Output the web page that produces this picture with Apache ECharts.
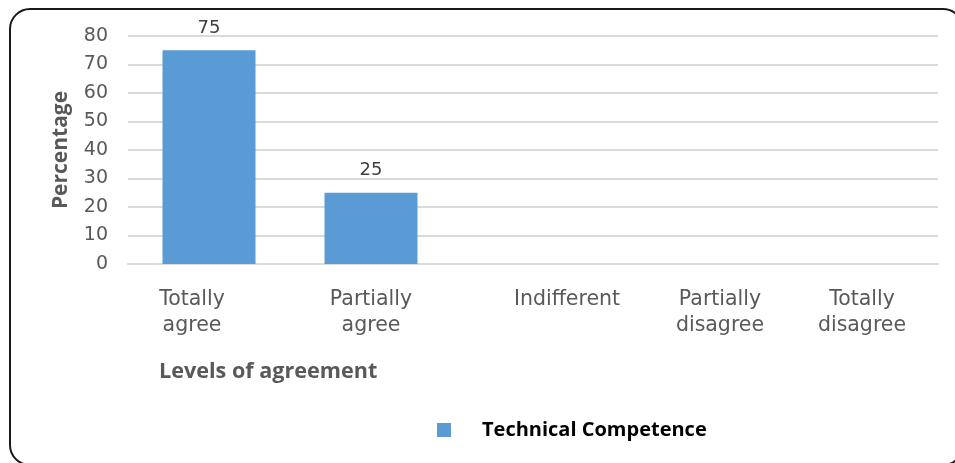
<html>
<head>
<meta charset="utf-8">
<script src="https://cdn.jsdelivr.net/npm/echarts@6/dist/echarts.min.js"></script>
<style>
    html, body { margin: 0; padding: 0; background: #fff; }
    #main { width: 955px; height: 463px; }
</style>
</head>
<body>
<div id="main"></div>
<script>
    // levels of agreement and the share of answers for each
    var categories = ['Totally\nagree', 'Partially\nagree', 'Indifferent', 'Partially\ndisagree', 'Totally\ndisagree'];
    var values = [75, 25, null, null, null];
    var seriesName = 'Technical Competence';
    var yTicks = [0, 80, 10]; // min, max, step

    // the source picture does not centre its category labels exactly
    var labelShift = [-17, 0, 34, 25, 5];

    var labelFont = "'DejaVu Sans', Verdana, sans-serif";
    var boldFont = "'Open Sans', sans-serif";

    var chart = echarts.init(document.getElementById('main'));

    var xData = categories.map(function (c, i) {
        var s = labelShift[i];
        return {
            value: c,
            textStyle: { padding: s < 0 ? [0, -2 * s, 0, 0] : [0, 0, 0, 2 * s] }
        };
    });

    chart.setOption({
        animation: false,
        graphic: [{
            type: 'rect',
            shape: { x: 10, y: 9, width: 953, height: 456, r: 20 },
            style: { fill: 'none', stroke: '#1a1a1a', lineWidth: 2 },
            silent: true
        }],
        title: {
            text: 'Levels of agreement',
            left: 154,
            top: 356,
            textStyle: { fontFamily: boldFont, fontWeight: 'bold', fontSize: 21.6, color: '#595959' }
        },
        legend: {
            data: [seriesName],
            left: 432,
            top: 415,
            icon: 'rect',
            itemWidth: 14,
            itemHeight: 14,
            textStyle: { fontFamily: boldFont, fontWeight: 'bold', fontSize: 20, color: '#000', padding: [0, 0, 0, 26] }
        },
        grid: { left: 128, right: 17, top: 36, bottom: 199 },
        xAxis: {
            type: 'category',
            data: xData,
            axisTick: { show: false },
            axisLine: { lineStyle: { color: '#d9d9d9', width: 2 } },
            axisLabel: {
                margin: 23,
                fontFamily: labelFont,
                fontSize: 20.5,
                lineHeight: 26,
                color: '#595959'
            }
        },
        yAxis: {
            type: 'value',
            min: yTicks[0],
            max: yTicks[1],
            interval: yTicks[2],
            name: 'Percentage',
            nameLocation: 'middle',
            nameGap: 56,
            nameTextStyle: { fontFamily: boldFont, fontWeight: 'bold', fontSize: 21, color: '#595959' },
            axisLine: { show: false },
            axisTick: { show: false },
            axisLabel: { margin: 20, fontFamily: labelFont, fontSize: 19, color: '#595959' },
            splitLine: { lineStyle: { color: '#d9d9d9', width: 2 } }
        },
        series: [{
            name: seriesName,
            type: 'bar',
            data: values,
            barWidth: 93,
            itemStyle: { color: '#5b9bd5' },
            label: {
                show: true,
                position: 'top',
                distance: 13,
                fontFamily: labelFont,
                fontSize: 18,
                color: '#404040'
            }
        }]
    });
</script>
</body>
</html>
